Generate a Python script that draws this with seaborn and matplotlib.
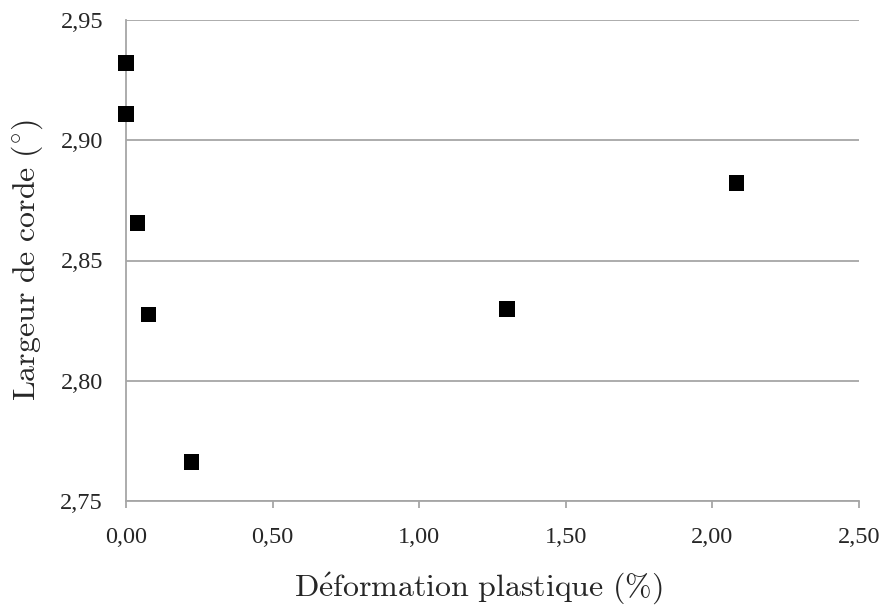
import matplotlib
matplotlib.use("Agg")
import matplotlib.pyplot as plt
import matplotlib.ticker as mticker
import pandas as pd
import seaborn as sns

# values
deformation = [0.0, 0.0, 0.04, 0.077, 0.224, 1.30, 2.083]
largeur = [2.9321, 2.911, 2.8656, 2.8275, 2.7663, 2.8298, 2.8822]
x_ticks = [0.0, 0.5, 1.0, 1.5, 2.0, 2.5]
y_ticks = [2.75, 2.80, 2.85, 2.90, 2.95]

df = pd.DataFrame({"deformation": deformation, "largeur": largeur})

sns.set_style("white")
plt.rcParams["font.family"] = ["Liberation Serif", "DejaVu Serif"]
plt.rcParams["mathtext.fontset"] = "cm"

grey = "#a6a6a6"

fig = plt.figure(figsize=(8.87, 6.07), dpi=100)
ax = fig.add_axes([126 / 887, 1 - 501 / 607, (859 - 126) / 887, (501 - 20) / 607])

sns.scatterplot(data=df, x="deformation", y="largeur", ax=ax, marker="s",
                s=125, color="black", edgecolor="none", zorder=3, clip_on=False)

ax.set_xlim(0, 2.5)
ax.set_ylim(2.75, 2.95)
ax.set_xticks(x_ticks)
ax.set_yticks(y_ticks)
fmt = mticker.FuncFormatter(lambda v, p: f"{v:.2f}".replace(".", ","))
ax.xaxis.set_major_formatter(fmt)
ax.yaxis.set_major_formatter(fmt)

ax.grid(axis="y", color=grey, linewidth=1.3)
ax.set_axisbelow(True)
for side in ["top", "right"]:
    ax.spines[side].set_visible(False)
for side in ["left", "bottom"]:
    ax.spines[side].set_color(grey)
    ax.spines[side].set_linewidth(1.3)

ax.tick_params(axis="x", which="major", bottom=True, length=5, width=1.3, color=grey,
               labelsize=17.5, pad=14)
ax.tick_params(axis="y", which="major", left=False, length=0, labelsize=17.5, pad=16.5)

ax.set_xlabel(r"$\mathrm{D\acute{e}formation\ plastique\ (\%)}$", fontsize=23)
ax.set_ylabel(r"$\mathrm{Largeur\ de\ corde\ (^{\circ})}$", fontsize=23)
ax.xaxis.set_label_coords(0.48, -0.145)
ax.yaxis.set_label_coords(-0.11, 0.5)

fig.savefig("out.png", dpi=100)
